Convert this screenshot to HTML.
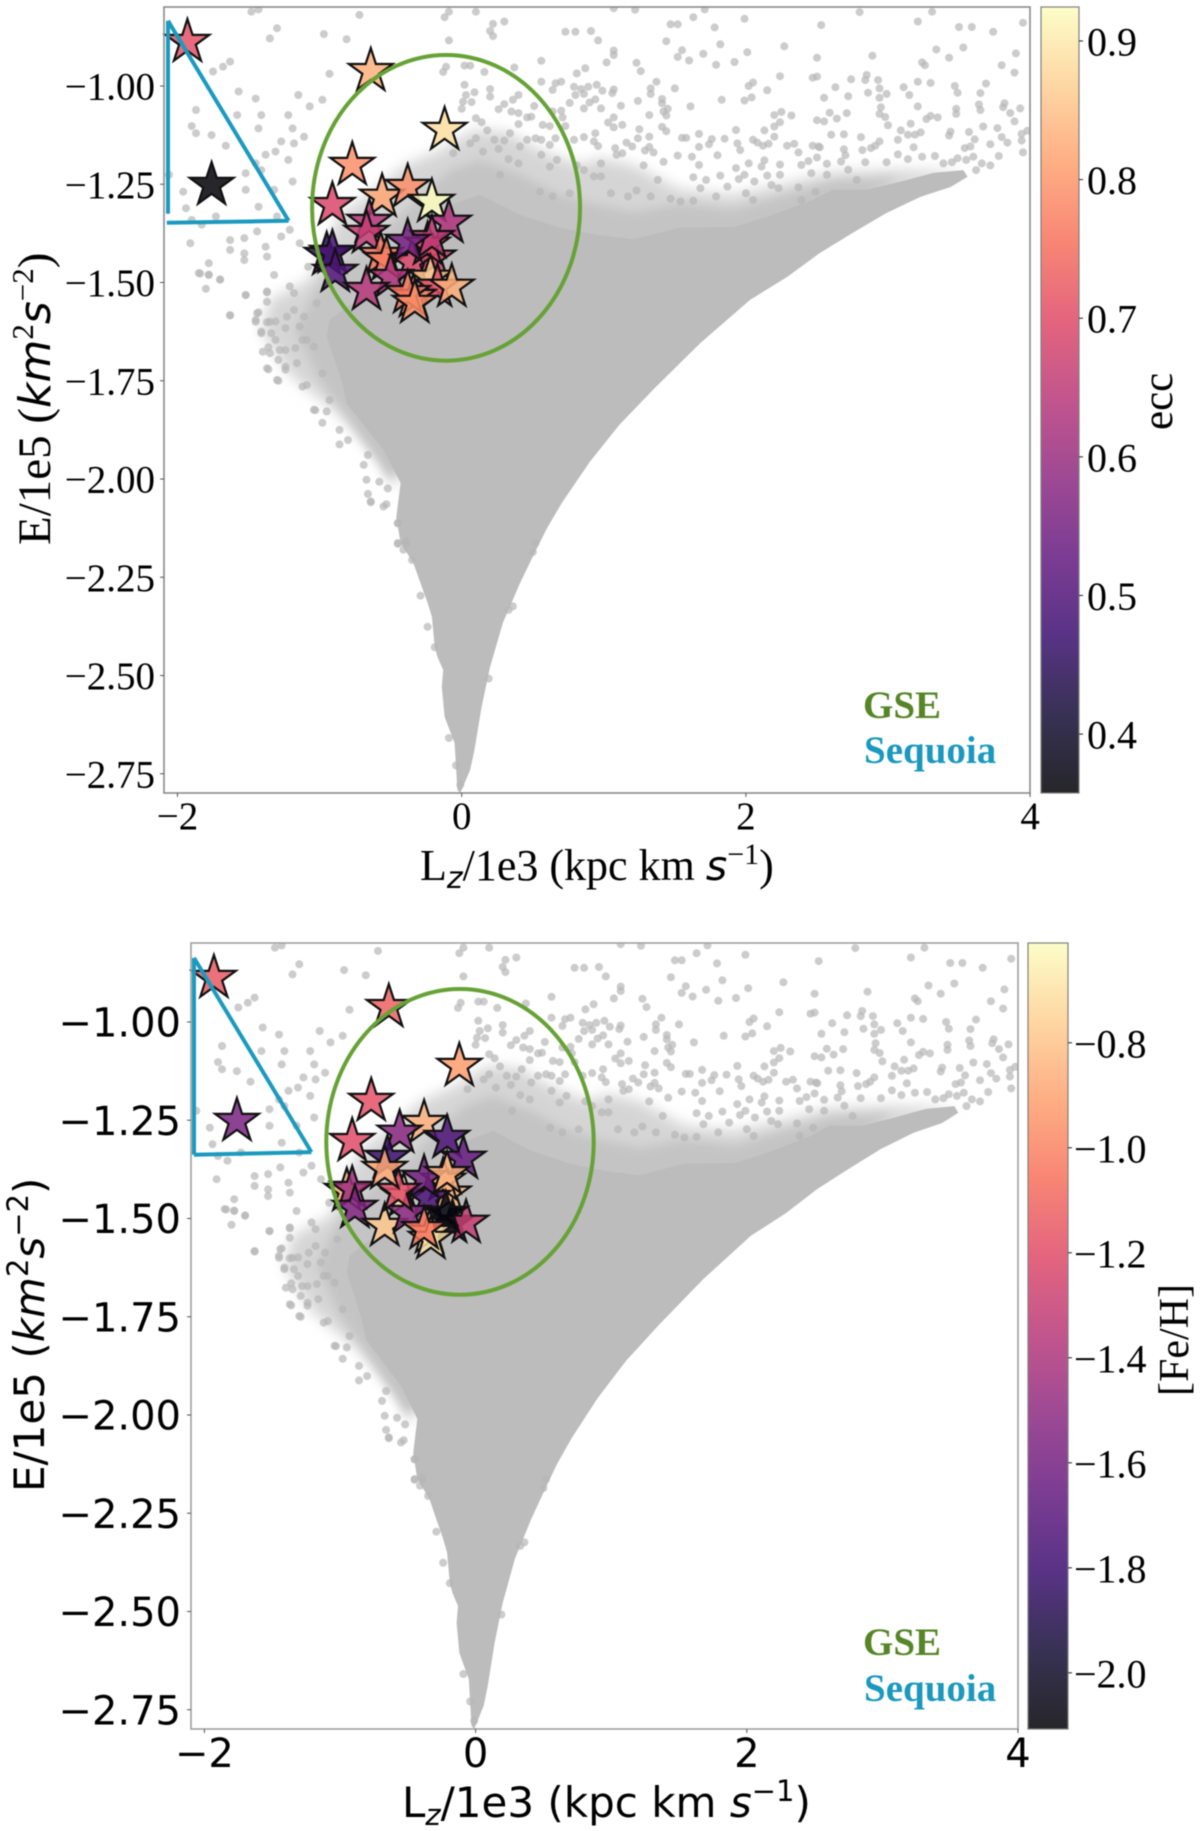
<!DOCTYPE html>
<html lang="en">
<head>
<meta charset="utf-8">
<title>E vs Lz scatter panels</title>
<style>
html,body{margin:0;padding:0;background:#fff;}
#chart{display:block;width:1200px;height:1831px;filter:blur(0.45px);}
.serif{font-family:"Liberation Serif",serif;fill:#000;}
.sans{font-family:"DejaVu Sans",sans-serif;fill:#000;}
.mi{font-family:"DejaVu Sans",sans-serif;font-style:oblique;}
</style>
</head>
<body>
<svg id="chart" xmlns="http://www.w3.org/2000/svg" width="1200" height="1831" viewBox="0 0 1200 1831">
  <rect width="1200" height="1831" fill="#fff"/>
  <defs id="defs">
    <filter id="soft-wide" x="-10%" y="-10%" width="120%" height="120%"><feGaussianBlur stdDeviation="7"/></filter>
    <filter id="soft-narrow" x="-10%" y="-10%" width="120%" height="120%"><feGaussianBlur stdDeviation="5"/></filter>
  </defs>
  <g id="panel-top"></g>
  <g id="panel-bottom"></g>

  <text class="serif" x="420" y="880" font-size="44">L<tspan class="mi" dy="8" font-size="30">z</tspan><tspan dy="-8">/1e3 (kpc km </tspan><tspan class="mi" font-size="41">s</tspan><tspan dy="-16" font-size="30">−1</tspan><tspan dy="16">)</tspan></text>
  <text class="serif" transform="translate(50,545) rotate(-90)" font-size="47">E/1e5 (<tspan class="mi" font-size="44">km</tspan><tspan dy="-17" font-size="31">2</tspan><tspan class="mi" dy="17" font-size="44">s</tspan><tspan dy="-17" font-size="31">−2</tspan><tspan dy="17">)</tspan></text>
  <text class="serif" transform="translate(1172,430) rotate(-90)" font-size="43">ecc</text>
  <text x="863" y="718" font-family="'Liberation Serif',serif" font-weight="bold" font-size="39" fill="#558526">GSE</text>
  <text x="864" y="763" font-family="'Liberation Serif',serif" font-weight="bold" font-size="39" fill="#1a98bd">Sequoia</text>

  <text class="sans" x="402" y="1817" font-size="42">L<tspan class="mi" dy="8" font-size="29">z</tspan><tspan dy="-8">/1e3 (kpc km </tspan><tspan class="mi">s</tspan><tspan dy="-16" font-size="29">−1</tspan><tspan dy="16">)</tspan></text>
  <text class="sans" transform="translate(44,1492) rotate(-90)" font-size="42">E/1e5 (<tspan class="mi">km</tspan><tspan dy="-16" font-size="29">2</tspan><tspan class="mi" dy="16">s</tspan><tspan dy="-16" font-size="29">−2</tspan><tspan dy="16">)</tspan></text>
  <text class="serif" transform="translate(1188,1396) rotate(-90)" font-size="42">[Fe/H]</text>
  <text x="863" y="1655" font-family="'Liberation Serif',serif" font-weight="bold" font-size="39" fill="#558526">GSE</text>
  <text x="864" y="1701" font-family="'Liberation Serif',serif" font-weight="bold" font-size="39" fill="#1a98bd">Sequoia</text>
</svg>
<script>
// ---------- data ----------
const xTicks = [-2, 0, 2, 4];
const yTicks = [-1.00, -1.25, -1.50, -1.75, -2.00, -2.25, -2.50, -2.75];
const eccTicks = [0.9, 0.8, 0.7, 0.6, 0.5, 0.4];
const fehTicks = [-0.8, -1.0, -1.2, -1.4, -1.6, -1.8, -2.0];

const starLz = [-1.93,-1.76,-.64,-.12,-.77,-.38,-.56,-.21,-.91,-.09,-.65,-.67,-.38,-.21,-.91,-.95,-.89,-.57,-.53,-.20,-.35,-.24,-.67,-.50,-.17,-.07,-.33,-.34,-.38,-.22];
const starE = [-.888,-1.252,-.962,-1.112,-1.201,-1.257,-1.282,-1.295,-1.303,-1.348,-1.346,-1.374,-1.397,-1.387,-1.425,-1.430,-1.473,-1.430,-1.443,-1.437,-1.448,-1.404,-1.519,-1.486,-1.511,-1.511,-1.552,-1.537,-1.527,-1.488];
const starEcc = [.71,.36,.83,.885,.79,.79,.82,.925,.69,.63,.64,.66,.55,.65,.49,.44,.50,.76,.77,.68,.69,.70,.64,.63,.70,.83,.79,.78,.76,.86];
const starFeH = [-1.15,-1.58,-1.12,-.92,-1.18,-.85,-1.52,-1.75,-1.2,-1.65,-1.8,-.88,-1.6,-.85,-1.45,-.88,-1.55,-1.2,-.7,-.85,-1.75,-.85,-.78,-1.5,-2.05,-1.3,-.7,-.7,-1.05,-2.08];
const starOrderTop = [0,1,2,3,4,6,5,7,8,9,10,11,15,14,16,17,18,19,20,21,23,29,13,12,22,24,27,28,26,25];
const starOrderBottom = [0,1,2,3,4,5,6,7,8,9,10,15,14,16,18,19,21,20,22,23,24,12,17,11,13,25,29,27,26,28];

const gseLz = [-.11, -.115], gseE = [-1.31, -1.305], gseWidth = [.943, .986], gseHeight = [.389, .389];
const seqTopLz = [-2.067, -2.067], seqTopE = [-.834, -1.325];
const seqTopBaseLz = [-2.075, -1.218], seqTopBaseE = [-1.348, -1.343];
const seqTopSlopeLz = [-2.067, -1.218], seqTopSlopeE = [-.834, -1.343];
const seqBotLz = [-2.077, -2.077], seqBotE = [-.837, -1.338];
const seqBotBaseLz = [-2.077, -1.211], seqBotBaseE = [-1.338, -1.331];
const seqBotSlopeLz = [-2.077, -1.211], seqBotSlopeE = [-.837, -1.331];

// dense core outline [Lz, E]
const coreOutline = [[-.01,-2.799],[.06,-2.74],[.09,-2.689],[.14,-2.58],[.2,-2.478],[.29,-2.366],[.41,-2.265],[.51,-2.19],[.6,-2.125],[.71,-2.058],[.9,-1.957],[1.11,-1.862],[1.36,-1.768],[1.68,-1.654],[2.03,-1.544],[2.29,-1.486],[2.52,-1.425],[2.75,-1.374],[2.99,-1.323],[3.23,-1.282],[3.44,-1.257],[3.56,-1.231],[3.53,-1.214],[3.32,-1.221],[3.08,-1.244],[2.85,-1.264],[2.61,-1.264],[2.47,-1.29],[2.15,-1.333],[1.91,-1.359],[1.54,-1.36],[1.21,-1.39],[.97,-1.38],[.69,-1.36],[.41,-1.328],[.13,-1.277],[-.08,-1.303],[-.22,-1.43],[-.5,-1.519],[-.79,-1.557],[-.93,-1.595],[-.95,-1.638],[-.84,-1.756],[-.81,-1.807],[-.55,-1.926],[-.43,-2.01],[-.46,-2.097],[-.43,-2.163],[-.34,-2.214],[-.29,-2.265],[-.24,-2.315],[-.21,-2.351],[-.19,-2.427],[-.17,-2.453],[-.13,-2.486],[-.14,-2.529],[-.12,-2.605],[-.05,-2.672],[-.03,-2.791]];
// speckled halo outlines [Lz, E]
const haloOutline = [[3.56,-1.219],[3.08,-1.214],[2.61,-1.219],[2.24,-1.252],[1.91,-1.277],[1.54,-1.264],[1.21,-1.201],[.97,-1.183],[.83,-1.201],[.55,-1.163],[.32,-1.117],[.08,-1.112],[-.15,-1.163],[-.4,-1.201],[-.61,-1.264],[-.86,-1.328],[-1.07,-1.493],[-1.35,-1.544],[-1.41,-1.621],[-1.21,-1.735],[-.86,-1.837],[-.57,-1.951],[-.47,-2.028],[-.29,-1.799],[3.08,-1.264]];
const innerHaloOutline = [[3.08,-1.234],[2.61,-1.244],[2.15,-1.29],[1.91,-1.315],[1.54,-1.3],[1.21,-1.32],[.97,-1.303],[.69,-1.277],[.41,-1.226],[.13,-1.188],[-.08,-1.214],[-.29,-1.277],[-.5,-1.354],[-.79,-1.43],[-1.03,-1.519],[-1.17,-1.621],[-1,-1.748],[-.79,-1.85],[-.5,-2.002],[.27,-1.672],[2.38,-1.366]];
// individually visible background stars [Lz, E]
const cloudPoints = [[1.07,-.802],[1.22,-.806],[1.71,-.805],[1.63,-.825],[1.47,-.843],[1.52,-.843],[1.99,-.829],[1.78,-.851],[2.53,-.845],[2.8,-.812],[3.21,-.836],[3.31,-.811],[3.5,-.85],[3.59,-.85],[3.74,-.862],[3.95,-.839],[1.44,-.886],[1.82,-.894],[1.07,-.91],[1.07,-.921],[1.02,-.94],[1.23,-.941],[1.26,-.962],[1.55,-.909],[1.52,-.926],[1.6,-.935],[1.7,-.918],[1.79,-.946],[1.92,-.939],[2.01,-.914],[2.27,-.899],[2.5,-.928],[2.89,-.923],[3.34,-.907],[3.43,-.928],[3.53,-.902],[3.9,-.917],[3.8,-.947],[3.89,-.966],[3.24,-.94],[3.26,-.947],[2.24,-.975],[2.47,-.979],[2.5,-.976],[2.85,-.972],[2.84,-.985],[2.74,-.983],[2.93,-.985],[3.21,-.989],[3.3,-.992],[3.11,-1.003],[3.69,-.994],[3.47,-1],[3.65,-1.018],[3.49,-1.017],[1.37,-.989],[1.33,-1.006],[1.33,-1.02],[1.5,-1.006],[1.07,-1.009],[1.06,-1.018],[.99,-1.012],[2.05,-.991],[2.02,-1],[2.15,-1.011],[2.63,-1.003],[2.94,-1.006],[2.86,-1.017],[2.99,-1.02],[3.15,-1.023],[2.72,-1.026],[2.94,-1.03],[2.55,-1.03],[2.04,-1.029],[1.99,-1.037],[1.83,-1.035],[1.41,-1.033],[1.24,-1.038],[1.12,-1.05],[1.41,-1.044],[1.61,-1.052],[1.45,-1.058],[1.42,-1.065],[1.44,-1.075],[1.32,-1.074],[.98,-1.057],[3.21,-1.052],[2.95,-1.054],[3.48,-1.058],[3.48,-1.071],[3.64,-1.047],[3.65,-1.061],[3.82,-1.044],[3.81,-1.054],[3.93,-1.057],[3.86,-1.069],[3.89,-1.09],[2.71,-1.069],[2.59,-1.068],[2.64,-1.083],[2.25,-1.066],[2.2,-1.074],[2.32,-1.075],[2.94,-1.071],[2.98,-1.079],[2.5,-1.087],[2.55,-1.09],[3,-1.1],[3.16,-1.096],[3.3,-1.076],[3.35,-1.08],[3.27,-1.084],[3.67,-1.103],[3.77,-1.107],[3.57,-1.117],[3.23,-1.118],[3.14,-1.124],[3.19,-1.124],[3.09,-1.113],[3.44,-1.116],[3.43,-1.126],[2.24,-1.092],[2.2,-1.103],[2.13,-1.113],[1.93,-1.112],[2.2,-1.129],[2.6,-1.124],[2.69,-1.123],[2.81,-1.13],[3.07,-1.137],[3.8,-1.13],[3.84,-1.144],[3.94,-1.122],[3.94,-1.139],[3.98,-1.114],[3.95,-1.169],[3.61,-1.136],[3.58,-1.154],[3.54,-1.158],[3.72,-1.148],[3.18,-1.156],[2.94,-1.141],[2.91,-1.152],[2.88,-1.158],[2.69,-1.161],[2.51,-1.154],[2.47,-1.152],[2.52,-1.156],[2.34,-1.147],[2.29,-1.152],[2.05,-1.137],[2.08,-1.144],[2.12,-1.152],[2.16,-1.147],[1.94,-1.146],[1.96,-1.163],[1.85,-1.134],[1.76,-1.135],[1.74,-1.148],[1.67,-1.122],[1.67,-1.155],[1.8,-1.176],[1.62,-1.18],[1.55,-1.132],[1.58,-1.132],[1.41,-1.104],[1.44,-1.115],[1.25,-1.11],[1.32,-1.129],[1.24,-1.133],[1.16,-1.144],[1.2,-1.154],[1.13,-1.099],[1.07,-1.105],[1.03,-1.093],[1.07,-1.08],[1.32,-1.155],[1.29,-1.164],[1.35,-1.169],[1.08,-1.158],[1.09,-1.175],[1.13,-1.171],[1.52,-1.177],[1.67,-1.201],[1.42,-1.193],[2.02,-1.197],[2.13,-1.189],[2.11,-1.205],[2.24,-1.2],[2.5,-1.182],[2.44,-1.191],[2.39,-1.201],[2.37,-1.169],[2.57,-1.198],[2.67,-1.192],[2.7,-1.176],[2.82,-1.163],[2.84,-1.194],[2.99,-1.194],[3.07,-1.174],[3.14,-1.186],[3.24,-1.18],[3.33,-1.178],[3.39,-1.197],[3.45,-1.194],[3.49,-1.184],[3.55,-1.188],[3.6,-1.18],[3.66,-1.197],[3.62,-1.214],[3.72,-1.202],[3.78,-1.178],[2.24,-1.226],[2.15,-1.228],[2.06,-1.243],[1.99,-1.226],[1.95,-1.237],[1.82,-1.228],[1.72,-1.239],[1.63,-1.232],[1.28,-1.202],[1.93,-1.209],[2.46,-1.222],[2.57,-1.226],[2.72,-1.213],[2.78,-1.239],[1.87,-1.256],[2,-1.273],[2.18,-1.252],[2.23,-1.26],[2.37,-1.258],[2.49,-1.269],[1.68,-1.26],[1.79,-1.281],[1.54,-1.294],[1.47,-1.287],[1.63,-1.292],[2.05,-1.29],[2.39,-1.29],[1.38,-1.239],[1.23,-1.266],[1.05,-1.273],[1.17,-1.281],[1.33,-1.281],
[.1,-.811],[-.09,-.811],[-.12,-.825],[.22,-.842],[.3,-.836],[.2,-.86],[.22,-.873],[-.09,-.884],[.73,-.862],[.8,-.862],[.91,-.86],[.96,-.884],[.56,-.936],[.37,-.953],[-.11,-.951],[.02,-.948],[.06,-.948],[.16,-.964],[-.13,-.964],[.81,-.968],[.87,-.955],[.02,-.997],[.09,-1.016],[.03,-1.023],[.2,-1.008],[.2,-1.027],[.56,-.989],[.7,-.989],[.66,-.993],[.64,-1.01],[.79,-1.002],[.89,-1.002],[.95,-.997],[.84,-1.008],[.8,-1.023],[.86,-1.02],[.94,-1.034],[.9,-1.042],[.76,-1.043],[.86,-1.057],[.4,-1.023],[.36,-1.035],[.3,-1.046],[.26,-1.059],[.51,-1.051],[.07,-1.041],[.01,-1.04],[0,-1.058],[.1,-1.082],[.14,-1.092],[.18,-1.113],[.1,-1.133],[.35,-1.065],[.4,-1.069],[.46,-1.08],[.49,-1.078],[.4,-1.097],[.7,-1.063],[.71,-1.08],[.64,-1.065],[.57,-1.099],[.62,-1.102],[.73,-1.102],[.66,-1.133],[.79,-1.137],[.86,-1.13],[.94,-1.12],[.93,-1.141],[.96,-1.153],[.34,-1.12],[.3,-1.139],[.23,-1.137],[.46,-1.137],[.52,-1.133],[.56,-1.137],[.62,-1.15],[.26,-1.16],[.15,-1.167],[.41,-1.154],[.33,-1.186],[.56,-1.175],[.67,-1.188],[.62,-1.205],[.86,-1.214],[.81,-1.202],[.98,-1.197],[.93,-1.23],[.98,-1.23],[.76,-1.273],[.64,-1.281],[.55,-1.269],[.27,-1.226],[.4,-1.197],[.06,-1.146],[-.06,-1.171],
[-1.48,-.811],[-1.43,-.805],[-1.3,-.853],[-1.35,-.879],[-.97,-.868],[-.81,-.881],[-.72,-.819],[-1.63,-.938],[-1.68,-.951],[-1.75,-.963],[-.93,-.969],[-1.57,-1.014],[-1.45,-1.032],[-1.87,-1.061],[-.98,-1.035],[-1.07,-1.052],[-1.15,-1.023],[-1.22,-1.074],[-1.41,-1.074],[-1.58,-1.074],[-1.9,-1.102],[-1.87,-1.12],[-1.76,-1.125],[-1.66,-1.152],[-1.43,-1.108],[-1.19,-1.108],[-1.27,-1.141],[-1.11,-1.129],[-1.18,-1.146],[-1.38,-1.175],[-1.45,-1.197],[-1.31,-1.167],[-1.22,-1.188],[-1.41,-1.214],[-1.52,-1.222],[-1.19,-1.243],[-1.32,-1.264],[-1.52,-1.264],[-1.96,-1.269],[-2.06,-1.226],[-1.94,-1.311],[-1.83,-1.353],[-1.9,-1.341],[-1.73,-1.332],[-1.43,-1.307],[-1.3,-1.332],[-1.21,-1.366],[-1.27,-1.383],[-1.44,-1.37],[-1.53,-1.387],[-1.63,-1.392],[-1.91,-1.4],[-1.63,-1.417],[-1.53,-1.443],[-1.53,-1.426],[-1.38,-1.409],[-1.37,-1.434],[-1.78,-1.451],[-1.84,-1.477],[-1.78,-1.481],[-1.7,-1.493],[-1.52,-1.532],[-1.37,-1.523],[-1.32,-1.481],[-1.21,-1.51],[-1.63,-1.583],[-1.44,-1.578],[-1.45,-1.6],[-1.41,-1.629],[-1.37,-1.718],[-1.3,-1.748],[-1.35,-1.6],[-1.24,-1.616],[-1.18,-1.527],[-1.08,-1.46],[-1.14,-1.4],[-1.02,-1.553],[-1.11,-1.587],[-1.04,-1.663],[-1.12,-1.646],[-1.24,-1.672],[-1.04,-1.824],[-.98,-1.731],[-1.35,-1.68],[-1.24,-1.714],[-1.12,-1.765],
[-1.85,-1.476],[-1.78,-1.48],[-1.7,-1.492],[-1.8,-1.516],[-1.52,-1.532],[-1.63,-1.584],[-1.37,-1.525],[-1.37,-1.549],[-1.43,-1.576],[-1.45,-1.595],[-1.37,-1.601],[-1.31,-1.599],[-1.41,-1.625],[-1.34,-1.629],[-1.31,-1.646],[-1.36,-1.665],[-1.4,-1.676],[-1.28,-1.672],[-1.29,-1.697],[-1.36,-1.721],[-1.29,-1.75],[-1.24,-1.722],[-1.17,-1.667],[-1.18,-1.57],[-1.23,-1.587],[-1.14,-1.612],[-1.09,-1.646],[-1.16,-1.705],[-1.09,-1.761],[-1.03,-1.825],[-.98,-1.857],[-.95,-1.828],[-.93,-1.799],[-.86,-1.875],[-.86,-1.912],[-.8,-1.901],[-.69,-1.964],[-.66,-1.939],[-.67,-2.002],[-.66,-2.038],[-.64,-2.057],[-.58,-2.007],[-.52,-2.024],[-.55,-2.07],[-.45,-2.113],[-.45,-2.165],[-.39,-2.164],[-.41,-2.18],
[-.64,-2.059],[-.53,-2.064],[-.45,-2.112],[-.45,-2.163],[-.39,-2.159],[-.35,-2.206],[-.29,-2.297],[-.24,-2.376],[-.19,-2.428],[-.09,-2.659],[-.04,-2.729],[.19,-2.508],[.36,-2.324],[.33,-2.333],[-.01,-2.778],[.5,-2.186],[.52,-2.163]];

const magmaStops = [0,.1,.2,.3,.4,.5,.6,.7,.8,.9,1];
const magmaColors = [[0,0,4],[20,14,54],[59,15,112],[100,26,128],[140,41,129],[183,55,121],[222,73,104],[247,112,92],[254,159,109],[254,207,146],[252,253,191]];

// ---------- helpers ----------
const NS = 'http://www.w3.org/2000/svg';
function mk(tag, parent, attrs) {
  const el = document.createElementNS(NS, tag);
  for (const k in attrs) el.setAttribute(k, attrs[k]);
  parent.appendChild(el);
  return el;
}
function magma(t) {
  t = Math.max(0, Math.min(1, t));
  const p = t * 10, i = Math.min(9, Math.floor(p)), f = p - i;
  const a = magmaColors[i], b = magmaColors[i + 1];
  return 'rgb(' + [0, 1, 2].map(c => Math.round(a[c] + (b[c] - a[c]) * f)).join(',') + ')';
}
function fmtMinus(s) { return s.replace('-', '−'); }
function polyPath(list, sx, sy) {
  return 'M' + list.map(p => sx(p[0]).toFixed(1) + ' ' + sy(p[1]).toFixed(1)).join('L') + 'Z';
}
function linePath(xs, ys, sx, sy) {
  return 'M' + xs.map((v, i) => sx(v).toFixed(1) + ' ' + sy(ys[i]).toFixed(1)).join('L');
}

function drawPanel(c) {
  const g = document.getElementById(c.id);
  const sx = v => c.x0 + v * c.kx;
  const sy = v => c.y1 + (-1 - v) * c.ky;
  const defs = document.getElementById('defs');
  const clip = mk('clipPath', defs, {id: c.id + '-clip'});
  mk('rect', clip, {x: c.left, y: c.top, width: c.right - c.left, height: c.bottom - c.top});
  const plot = mk('g', g, {'clip-path': 'url(#' + c.id + '-clip)'});
  
  

  const halo = mk('path', plot, {d: polyPath(haloOutline, sx, sy), fill: '#d5d5d5', filter: 'url(#soft-wide)'});
  
  
  const innerHalo = mk('path', plot, {d: polyPath(innerHaloOutline, sx, sy), fill: '#c4c4c4', filter: 'url(#soft-narrow)'});
  
  
  const core = mk('path', plot, {d: polyPath(coreOutline, sx, sy), fill: '#bcbcbc'});
  
  

  cloudPoints.forEach(p => {
    const dot = mk('circle', plot, {cx: sx(p[0]).toFixed(1), cy: sy(p[1]).toFixed(1), r: 4, fill: '#b6b6b6', 'fill-opacity': .7});
    
    
  });

  const R = 23, r = R * .382;
  c.order.forEach(i => {
    const cx = sx(starLz[i]), cy = sy(starE[i]);
    let pts = [];
    for (let k = 0; k < 10; k++) {
      const a = -Math.PI / 2 + k * Math.PI / 5, q = k % 2 ? r : R;
      pts.push((cx + q * Math.cos(a)).toFixed(1) + ',' + (cy + q * Math.sin(a)).toFixed(1));
    }
    const t = (c.values[i] - c.vmin) / (c.vmax - c.vmin);
    const star = mk('polygon', g, {points: pts.join(' '), fill: magma(t), 'fill-opacity': .85, stroke: '#111', 'stroke-width': 2.2, 'stroke-linejoin': 'miter'});
    
    
  });

  const ell = mk('ellipse', g, {cx: sx(gseLz[c.n]), cy: sy(gseE[c.n]), rx: gseWidth[c.n] * c.kx, ry: gseHeight[c.n] * c.ky, fill: 'none', stroke: '#66a235', 'stroke-width': 4});
  
  

  const tri = mk('path', g, {d: linePath(c.tri[0], c.tri[1], sx, sy) + linePath(c.tri[2], c.tri[3], sx, sy) + linePath(c.tri[4], c.tri[5], sx, sy), fill: 'none', stroke: '#1b9abf', 'stroke-width': 4});
  
  

  const frame = mk('rect', g, {x: c.left, y: c.top, width: c.right - c.left, height: c.bottom - c.top, fill: 'none', stroke: c.frame, 'stroke-width': 1.6});
  
  

  xTicks.forEach(v => {
    const x = sx(v);
    const tk = mk('line', g, {x1: x, x2: x, y1: c.bottom, y2: c.bottom + 4, stroke: '#555', 'stroke-width': 1});
    
    
    const lb = mk('text', g, {x: x, y: c.bottom + c.xBase, 'text-anchor': 'middle', class: c.font, 'font-size': c.size});
    
    
    lb.textContent = fmtMinus(String(v));
  });
  yTicks.forEach(v => {
    const y = sy(v);
    const tk = mk('line', g, {x1: c.left - 4, x2: c.left, y1: y, y2: y, stroke: '#555', 'stroke-width': 1});
    
    
    const lb = mk('text', g, {x: c.left - c.yPad, y: y + c.yBase, 'text-anchor': 'end', class: c.font, 'font-size': c.size});
    
    
    lb.textContent = fmtMinus(v.toFixed(2));
  });

  // colorbar
  const grad = mk('linearGradient', defs, {id: c.id + '-grad', x1: 0, y1: 1, x2: 0, y2: 0});
  magmaStops.forEach((s, i) => {
    mk('stop', grad, {offset: s, 'stop-color': 'rgb(' + magmaColors[i].join(',') + ')', 'stop-opacity': .85});
  });
  const bar = mk('rect', g, {x: c.cbLeft, y: c.top, width: c.cbRight - c.cbLeft, height: c.bottom - c.top, fill: 'url(#' + c.id + '-grad)', stroke: '#808080', 'stroke-width': 1.2});
  
  
  const cy = v => c.top + (c.vmax - v) / (c.vmax - c.vmin) * (c.bottom - c.top);
  c.ticks.forEach(v => {
    const y = cy(v);
    const tk = mk('line', g, {x1: c.cbRight, x2: c.cbRight + 4, y1: y, y2: y, stroke: '#222', 'stroke-width': 1});
    
    
    const lb = mk('text', g, {x: c.cbRight + c.cbPad, y: y + 14.5, class: 'serif', 'font-size': 40});
    
    
    lb.textContent = fmtMinus(v.toFixed(1));
  });
}

drawPanel({id:'panel-top', n:0, left:164, right:1030, top:7, bottom:793, x0:461.7, kx:142.1, y1:86, ky:393,
  values:starEcc, vmin:.3575, vmax:.9245, ticks:eccTicks, order:starOrderTop, frame:'#8a8a8a',
  tri:[seqTopLz,seqTopE,seqTopBaseLz,seqTopBaseE,seqTopSlopeLz,seqTopSlopeE],
  font:'serif', size:39, xBase:36, yPad:9, yBase:13.5, cbLeft:1041, cbRight:1079, cbPad:8});
drawPanel({id:'panel-bottom', n:1, left:191, right:1018, top:943, bottom:1729, x0:475.6, kx:135.6, y1:1022, ky:393,
  values:starFeH, vmin:-2.107, vmax:-.61, ticks:fehTicks, order:starOrderBottom, frame:'#a0a0a0',
  tri:[seqBotLz,seqBotE,seqBotBaseLz,seqBotBaseE,seqBotSlopeLz,seqBotSlopeE],
  font:'sans', size:40, xBase:38, yPad:10, yBase:14.5, cbLeft:1028, cbRight:1068, cbPad:6});
</script>
</body>
</html>
